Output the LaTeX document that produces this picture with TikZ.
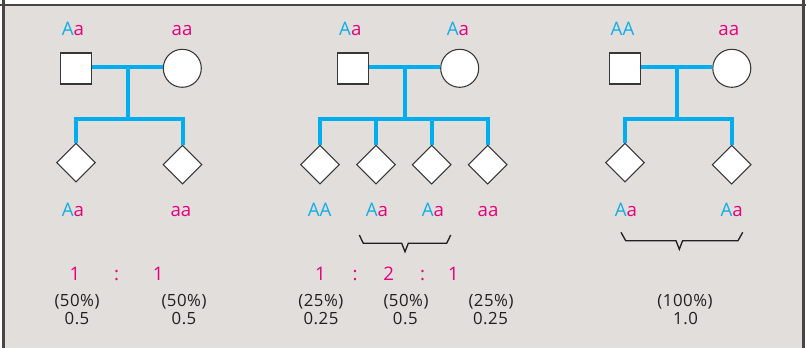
\documentclass[tikz,border=0pt]{standalone}
\usepackage{fontspec}
\setmainfont{Open Sans}
\newfontfamily\pctfont[LetterSpace=3]{Open Sans}
\usetikzlibrary{shapes.geometric}
\definecolor{bgc}{HTML}{E2DEDB}
\definecolor{framec}{HTML}{4A4545}
\definecolor{pedc}{HTML}{00AEEF}
\definecolor{cyanT}{HTML}{10AEE8}
\definecolor{magT}{HTML}{E6007E}
\definecolor{txtc}{HTML}{231F20}
\definecolor{outl}{HTML}{3A3636}
\newcommand\genoAa{{\color{cyanT}A}{\color{magT}a}}
\newcommand\genoAA{{\color{cyanT}AA}}
\newcommand\genoaa{{\color{magT}aa}}
\begin{document}
\begin{tikzpicture}[x=0.75pt,y=-0.75pt,
  male/.style={rectangle,draw=outl,fill=white,line width=0.8pt,minimum size=23.25pt,inner sep=0pt},
  female/.style={circle,draw=outl,fill=white,line width=0.8pt,minimum size=28.5pt,inner sep=0pt},
  child/.style={diamond,draw=outl,fill=white,line width=0.8pt,minimum size=29.25pt,inner sep=0pt},
  ped/.style={draw=pedc,line width=3pt},
  geno/.style={font=\fontsize{14}{16}\selectfont,inner sep=0pt,anchor=base},
  ratio/.style={font=\fontsize{14}{16}\selectfont,text=magT,inner sep=0pt,anchor=base},
  pct/.style={font=\pctfont\fontsize{12.6}{14}\selectfont,text=txtc,inner sep=0pt,anchor=base},
  bracestyle/.style={draw=txtc,line width=1pt,line join=miter}]
\useasboundingbox (0,0) rectangle (806,348);
% background and frame
\fill[white] (0,0) rectangle (806,348);
\fill[bgc] (3.5,5) rectangle (803.5,348);
\draw[framec,line width=1.6pt] (0,5) -- (806,5);
\draw[framec,line width=1.6pt] (3.5,0) -- (3.5,348);
\draw[framec,line width=1.6pt] (803.5,0) -- (803.5,348);

% ---------- Panel 1 ----------
\node[male] (s1) at (76,68.5) {};
\node[female] (c1) at (182.3,68.3) {};
\node[child] (d11) at (76,162.7) {};
\node[child] (d12) at (182.5,164.7) {};
\coordinate (m1) at (127.7,67);
\coordinate (j1) at (127.7,119);
\draw[ped] (s1.east |- m1) -- (c1.west |- m1);
\draw[ped] (m1) -- (j1);
\draw[ped] (d11.north) -- (d11.north |- j1) -- (d12.north |- j1) -- (d12.north);
\node[geno] (t11) at (73,36) {\genoAa};
\node[geno] (t12) at (182,36) {\genoaa};
\node[geno] (b11) at (73,216.7) {\genoAa};
\node[geno] (b12) at (181,216.7) {\genoaa};
\node[ratio] (r11) at (75,280.7) {1};
\node[ratio] (r12) at (116.7,280.7) {:};
\node[ratio] (r13) at (158.3,280.7) {1};
\node[pct] (p11) at (77,306.5) {(50\%)};
\node[pct] (q11) at (77,324.3) {0.5};
\node[pct] (p12) at (184,306.5) {(50\%)};
\node[pct] (q12) at (184,324.3) {0.5};

% ---------- Panel 2 ----------
\node[male] (s2) at (352.8,68.5) {};
\node[female] (c2) at (459.7,68.3) {};
\node[child] (d21) at (320,164.7) {};
\node[child] (d22) at (376,164.7) {};
\node[child] (d23) at (431.7,164.7) {};
\node[child] (d24) at (487.7,164.7) {};
\coordinate (m2) at (405,67);
\coordinate (j2) at (405,119);
\draw[ped] (s2.east |- m2) -- (c2.west |- m2);
\draw[ped] (m2) -- (j2);
\draw[ped] (d21.north) -- (d21.north |- j2) -- (d24.north |- j2) -- (d24.north);
\draw[ped] (d22.north |- j2) -- (d22.north);
\draw[ped] (d23.north |- j2) -- (d23.north);
\node[geno] (t21) at (350.3,35.5) {\genoAa};
\node[geno] (t22) at (458,35.5) {\genoAa};
\node[geno] (b21) at (319.7,216.7) {\genoAA};
\node[geno] (b22) at (377,216.7) {\genoAa};
\node[geno] (b23) at (433,216.7) {\genoAa};
\node[geno] (b24) at (488,216.7) {\genoaa};
\draw[bracestyle] (359.3,235) -- (363.3,243.3) -- (401.7,243.3) -- (405,251.7) -- (408.3,243.3) -- (446.7,243.3) -- (450.7,235);
\node[ratio] (r21) at (320.5,280.7) {1};
\node[ratio] (r22) at (355,280.7) {:};
\node[ratio] (r23) at (388.7,280.7) {2};
\node[ratio] (r24) at (422.7,280.7) {:};
\node[ratio] (r25) at (453.5,280.7) {1};
\node[pct] (p21) at (320.8,306.5) {(25\%)};
\node[pct] (q21) at (321,324.3) {0.25};
\node[pct] (p22) at (406,306.5) {(50\%)};
\node[pct] (q22) at (405.3,324.3) {0.5};
\node[pct] (p23) at (491,306.5) {(25\%)};
\node[pct] (q23) at (490.5,324.3) {0.25};

% ---------- Panel 3 ----------
\node[male] (s3) at (625.3,68.5) {};
\node[female] (c3) at (731.8,68.3) {};
\node[child] (d31) at (625,162.7) {};
\node[child] (d32) at (731.7,164.7) {};
\coordinate (m3) at (677.3,67);
\coordinate (j3) at (677.3,119);
\draw[ped] (s3.east |- m3) -- (c3.west |- m3);
\draw[ped] (m3) -- (j3);
\draw[ped] (d31.north) -- (d31.north |- j3) -- (d32.north |- j3) -- (d32.north);
\node[geno] (t31) at (622.5,35.5) {\genoAA};
\node[geno] (t32) at (728.8,35.5) {\genoaa};
\node[geno] (b31) at (626,216.7) {\genoAa};
\node[geno] (b32) at (731.7,216.7) {\genoAa};
\draw[bracestyle] (621,232.3) -- (625.7,240.7) -- (676,240.7) -- (679.3,249.3) -- (682.6,240.7) -- (738,240.7) -- (742.7,232.3);
\node[pct] (p31) at (685,306.5) {(100\%)};
\node[pct] (q31) at (685.5,324.3) {1.0};
\end{tikzpicture}
\end{document}
